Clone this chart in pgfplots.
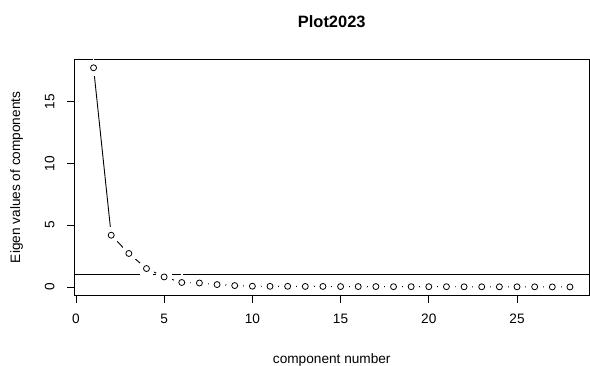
\documentclass[border=0pt]{standalone}
\usepackage{pgfplots}
\pgfplotsset{compat=1.18}
\usepackage{pgfplotstable}
\usepackage{fontspec}
\setmainfont{Liberation Sans}

% Eigenvalues of the principal components (scree plot)
\pgfplotstableread{
comp eig
1  17.75
2  4.19
3  2.71
4  1.49
5  0.81
6  0.36
7  0.32
8  0.19
9  0.11
10 0.06
11 0.05
12 0.05
13 0.04
14 0.04
15 0.03
16 0.03
17 0.03
18 0.02
19 0.02
20 0.02
21 0.02
22 0.01
23 0.01
24 0.01
25 0.01
26 0.01
27 0.00
28 0.00
}\eigtable

\begin{document}
\begin{tikzpicture}
\useasboundingbox (0,0) rectangle (590bp,366bp);
\begin{axis}[
  at={(74.5bp,70.3bp)}, anchor=south west,
  scale only axis, width=514.5bp, height=236.7bp,
  xmin=-0.08, xmax=29.08, ymin=-0.71, ymax=18.46,
  xtick={0,5,...,25}, ytick={0,5,10,15},
  xtick pos=bottom, ytick pos=left,
  tick align=outside, major tick length=7bp,
  axis line style={black, line width=0.9bp},
  every tick/.style={black, line width=0.8bp},
  tick label style={font=\fontsize{13.7}{15}\selectfont, inner sep=0pt},
  /pgf/number format/assume math mode=true,
  xticklabel style={anchor=base, yshift=-21bp},
  yticklabel style={rotate=90, anchor=base},
  yticklabel shift=13bp,
  title={Plot2023},
  xlabel={component number},
  ylabel={Eigen values of components},
  every axis title/.style={at={(rel axis cs:0.5,1.131)}, anchor=base,
    font=\bfseries\fontsize{16.5}{18}\selectfont, inner sep=0pt},
  every axis x label/.style={at={(rel axis cs:0.5,-0.2873)}, anchor=base,
    font=\fontsize{13.7}{15}\selectfont, inner sep=0pt},
  every axis y label/.style={at={(rel axis cs:-0.1059,0.5)}, rotate=90, anchor=base,
    font=\fontsize{13.7}{15}\selectfont, inner sep=0pt},
  clip=false,
]
  % connecting line
  \addplot [black, line width=0.9bp, no markers] table [x=comp, y=eig] {\eigtable};
  % gaps around the points
  \addplot [white, only marks, mark=*, mark size=7.8bp, mark options={fill=white, draw=white, line width=0pt}]
    table [x=comp, y=eig] {\eigtable};
  % reference line at eigenvalue 1
  \addplot [black, line width=0.9bp, no markers] coordinates {(-0.08,1) (29.08,1)};
  % points
  \addplot [black, only marks, mark=o, mark size=3bp, mark options={black, line width=0.8bp}]
    table [x=comp, y=eig] {\eigtable};
\end{axis}
\end{tikzpicture}
\end{document}
